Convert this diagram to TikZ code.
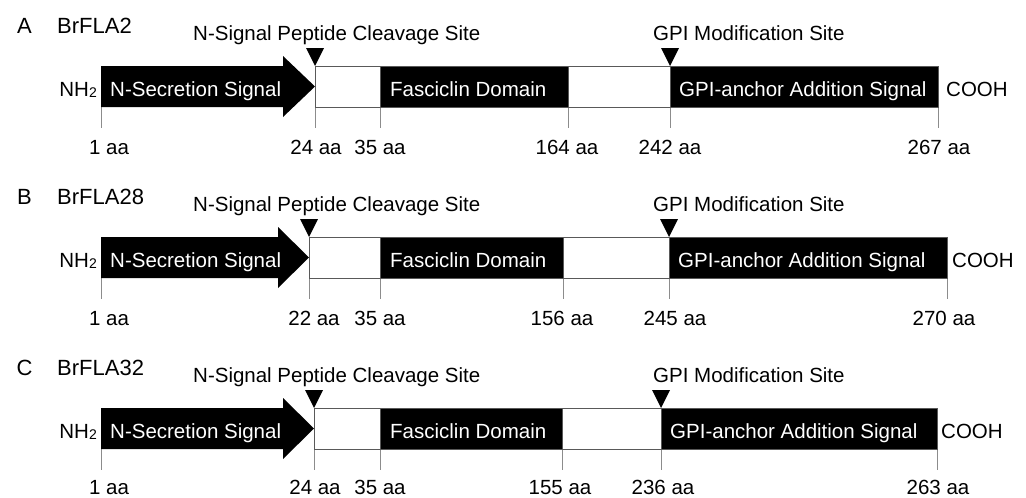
\documentclass[tikz,border=0pt]{standalone}
\usepackage{fontspec}
\setmainfont{Liberation Sans}
\begin{document}
\begin{tikzpicture}[x=1pt,y=-1pt]
\tikzset{
  txt/.style={inner sep=0pt, font=\fontsize{20.5}{24}\selectfont},
  titletxt/.style={inner sep=0pt, font=\fontsize{22}{26}\selectfont},
  lbl/.style={txt, anchor=base},
  intext/.style={txt, text=white, anchor=base west},
  darkbox/.style={fill=black, draw=black!65, line width=0.8pt},
  lightbox/.style={fill=white, draw=black!65, line width=0.8pt},
  tickline/.style={draw=black!45, line width=0.8pt},
  sitemark/.style={fill=black},
}
\useasboundingbox (0,0) rectangle (1026,498);
% one protein per row: offset, letter, name, arrow head start, cleavage site,
% end of fasciclin domain, GPI site, C-terminus, COOH position,
% label centres, residue numbers and the baseline of the numbers
\foreach \dy/\p/\nm/\hs/\tip/\fe/\g/\e/\cx/\xt/\xf/\xg/\xe/\nt/\nf/\ng/\ne/\lb in {
  0/A/BrFLA2/283/315/568/670/938/946/316/567/670/939/24/164/242/267/154,
  171/B/BrFLA28/278/309/563/669/947/952/314/562/675/944/22/156/245/270/154,
  342/C/BrFLA32/283/314/562/661/937/941/315/560/663/938/24/155/236/263/152}{
\begin{scope}[shift={(0,\dy)}]
  % title
  \node[titletxt, anchor=base] (let\p) at (24.5,33) {\p};
  \node[titletxt, anchor=base west] (name\p) at (57,33) {\nm};
  % site captions
  \node[txt, anchor=base west] (cleave\p) at (193,40) {N-Signal Peptide Cleavage Site};
  \node[txt, anchor=base west] (gpi\p) at (653,40) {GPI Modification Site};
  % ticks below the bar
  \foreach \tx in {101,\tip,380,\fe,\g,\e}
    \draw[tickline] (\tx,107) -- (\tx,128);
  % domains
  \draw[lightbox] (\tip,66) rectangle (380,107);
  \draw[darkbox] (380,66) rectangle (\fe,107);
  \draw[lightbox] (\fe,66) rectangle (\g,107);
  \draw[darkbox] (\g,66) rectangle (\e,107);
  % secretion signal arrow
  \fill[black] (101,66) -- (\hs,66) -- (\hs,56) -- (\tip,86.5) -- (\hs,117)
    -- (\hs,107) -- (101,107) -- cycle;
  % site markers
  \fill[sitemark] ({\tip-9},48) -- ({\tip+9},48) -- (\tip,66) -- cycle;
  \fill[sitemark] ({\g-9},48) -- ({\g+9},48) -- (\g,66) -- cycle;
  % texts in and beside the bar
  \node[intext] (sec\p) at (110,96.5) {N-Secretion Signal};
  \node[intext] (fas\p) at (390,96.5) {Fasciclin Domain};
  \node[intext] (anc\p) at ({\g+9},96.5) {GPI-anchor Addition Signal};
  \node[txt, anchor=base east] (nh\p) at (97,96.5)
    {NH{\fontsize{14}{14}\selectfont\raisebox{-1pt}{2}}};
  \node[txt, anchor=base west] (cooh\p) at (\cx,96.5) {COOH};
  % residue numbers
  \node[lbl] (r1\p) at (109,\lb) {1 aa};
  \node[lbl] (rt\p) at (\xt,\lb) {\nt\ aa};
  \node[lbl] (r35\p) at (380,\lb) {35 aa};
  \node[lbl] (rf\p) at (\xf,\lb) {\nf\ aa};
  \node[lbl] (rg\p) at (\xg,\lb) {\ng\ aa};
  \node[lbl] (re\p) at (\xe,\lb) {\ne\ aa};
\end{scope}
}
\end{tikzpicture}
\end{document}
